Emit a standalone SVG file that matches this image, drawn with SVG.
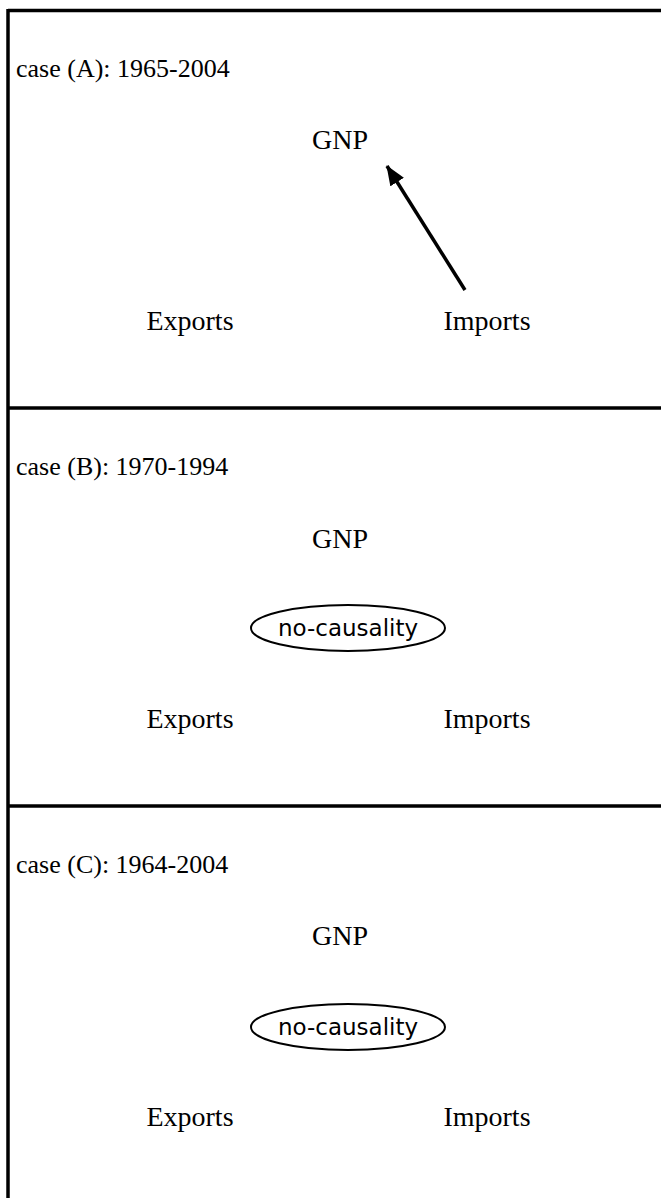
<svg xmlns="http://www.w3.org/2000/svg" width="661" height="1198" viewBox="0 0 661 1198">
<style>
.t{font-family:"Liberation Serif","Times New Roman",serif;font-size:28px;fill:#000}
.h{font-size:26px}
.c{text-anchor:middle}
.s{font-family:"DejaVu Sans","Noto Sans",sans-serif;font-size:23px;fill:#000;text-anchor:middle}
.frame{stroke:#000;stroke-width:3.5;fill:none}
.ell{stroke:#000;stroke-width:2;fill:none}
</style>
<defs>
<marker id="ah" markerWidth="22" markerHeight="18" refX="19" refY="8" orient="auto" markerUnits="userSpaceOnUse">
<path d="M0,0 L20,8 L0,16 z" fill="#000"/>
</marker>
</defs>
<rect width="661" height="1198" fill="#fff"/>
<g id="frame">
<line class="frame" x1="8" y1="10.5" x2="661" y2="10.5"/>
<line class="frame" x1="8" y1="9" x2="8" y2="1198"/>
<line class="frame" x1="8" y1="408" x2="661" y2="408"/>
<line class="frame" x1="8" y1="806" x2="661" y2="806"/>
</g>
<g id="titleA"><text class="t h" x="16" y="77">case (A): 1965-2004</text></g>
<g id="gnpA"><text class="t c" x="340" y="149">GNP</text></g>
<g id="exportsA"><text class="t c" x="190" y="330">Exports</text></g>
<g id="importsA"><text class="t c" x="487" y="330">Imports</text></g>
<g id="titleB"><text class="t h" x="16" y="475">case (B): 1970-1994</text></g>
<g id="gnpB"><text class="t c" x="340" y="548">GNP</text></g>
<g id="ncB"><ellipse class="ell" cx="348" cy="628" rx="97" ry="23"/><text class="s" x="348" y="636">no-causality</text></g>
<g id="exportsB"><text class="t c" x="190" y="728">Exports</text></g>
<g id="importsB"><text class="t c" x="487" y="728">Imports</text></g>
<g id="titleC"><text class="t h" x="16" y="873">case (C): 1964-2004</text></g>
<g id="gnpC"><text class="t c" x="340" y="945">GNP</text></g>
<g id="ncC"><ellipse class="ell" cx="348" cy="1027" rx="97" ry="23"/><text class="s" x="348" y="1035">no-causality</text></g>
<g id="exportsC"><text class="t c" x="190" y="1126">Exports</text></g>
<g id="importsC"><text class="t c" x="487" y="1126">Imports</text></g>
<g id="connectors">
<line x1="465" y1="290" x2="387" y2="166" stroke="#000" stroke-width="3.5" marker-end="url(#ah)"/>
</g>
</svg>
